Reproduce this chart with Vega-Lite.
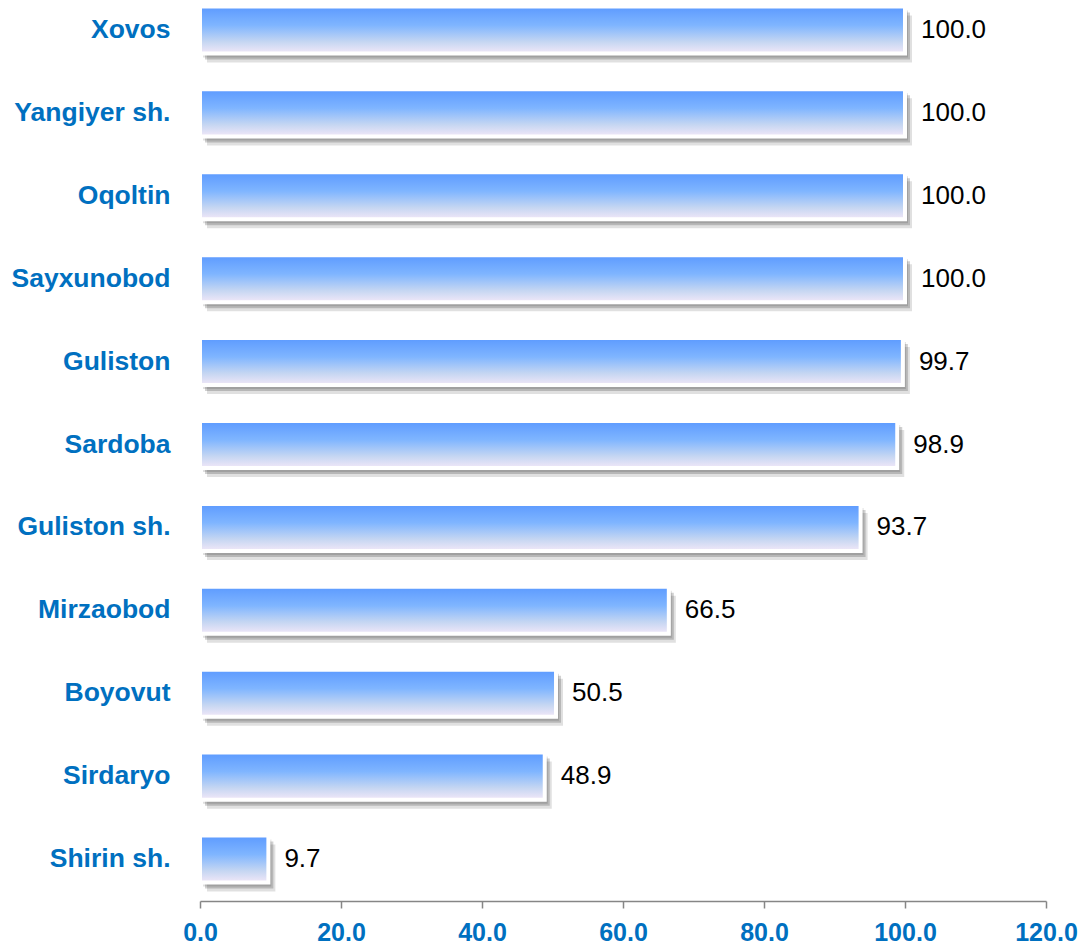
{
  "$schema": "https://vega.github.io/schema/vega-lite/v6.json",
  "autosize": {"type": "none"},
  "padding": {"left": 200, "top": 0, "right": 38, "bottom": 55},
  "width": 846,
  "height": 889,
  "background": "white",
  "view": {"stroke": null},
  "data": {
    "values": [
      {"district": "Xovos", "value": 100.0},
      {"district": "Yangiyer sh.", "value": 100.0},
      {"district": "Oqoltin", "value": 100.0},
      {"district": "Sayxunobod", "value": 100.0},
      {"district": "Guliston", "value": 99.7},
      {"district": "Sardoba", "value": 98.9},
      {"district": "Guliston sh.", "value": 93.7},
      {"district": "Mirzaobod", "value": 66.5},
      {"district": "Boyovut", "value": 50.5},
      {"district": "Sirdaryo", "value": 48.9},
      {"district": "Shirin sh.", "value": 9.7}
    ]
  },
  "encoding": {
    "y": {
      "field": "district",
      "type": "nominal",
      "sort": null,
      "title": null,
      "scale": {"paddingInner": 0.433, "paddingOuter": 0.078},
      "axis": {
        "domain": false,
        "ticks": false,
        "labelFont": "Liberation Sans",
        "labelFontSize": 26.5,
        "labelFontWeight": "bold",
        "labelColor": "#0070C0",
        "labelPadding": 30
      }
    },
    "x": {
      "field": "value",
      "type": "quantitative",
      "title": null,
      "scale": {"domain": [0, 120], "nice": false},
      "axis": {
        "values": [0, 20, 40, 60, 80, 100, 120],
        "format": ".1f",
        "grid": false,
        "offset": 12,
        "domainColor": "#868686",
        "domainWidth": 1.5,
        "tickColor": "#868686",
        "tickWidth": 1.5,
        "tickSize": 7,
        "labelFont": "Liberation Sans",
        "labelFontSize": 25,
        "labelFontWeight": "bold",
        "labelColor": "#0070C0",
        "labelPadding": 12,
        "labelFlush": false,
        "labelBound": false,
        "labelOverlap": false
      }
    }
  },
  "layer": [
    {
      "mark": {"type": "bar", "color": "#000000", "opacity": 0.12, "xOffset": 3, "x2Offset": 3, "yOffset": 4, "y2Offset": 4}
    },
    {
      "mark": {"type": "bar", "color": "#000000", "opacity": 0.18, "xOffset": 5, "x2Offset": 5, "yOffset": 6, "y2Offset": 6}
    },
    {
      "mark": {"type": "bar", "color": "#000000", "opacity": 0.12, "xOffset": 7, "x2Offset": 7, "yOffset": 9, "y2Offset": 9}
    },
    {
      "mark": {
        "type": "bar",
        "stroke": "white",
        "strokeWidth": 4,
        "color": {
          "gradient": "linear",
          "x1": 0, "y1": 0, "x2": 0, "y2": 1,
          "stops": [
            {"offset": 0, "color": "#5C9AFF"},
            {"offset": 0.4, "color": "#7FB5FF"},
            {"offset": 0.75, "color": "#C5D6F2"},
            {"offset": 1, "color": "#F2E8F8"}
          ]
        }
      }
    },
    {
      "mark": {
        "type": "text",
        "align": "left",
        "baseline": "middle",
        "dx": 16,
        "font": "Liberation Sans",
        "fontSize": 26,
        "color": "#000000"
      },
      "encoding": {
        "text": {"field": "value", "type": "quantitative", "format": ".1f"}
      }
    }
  ]
}
